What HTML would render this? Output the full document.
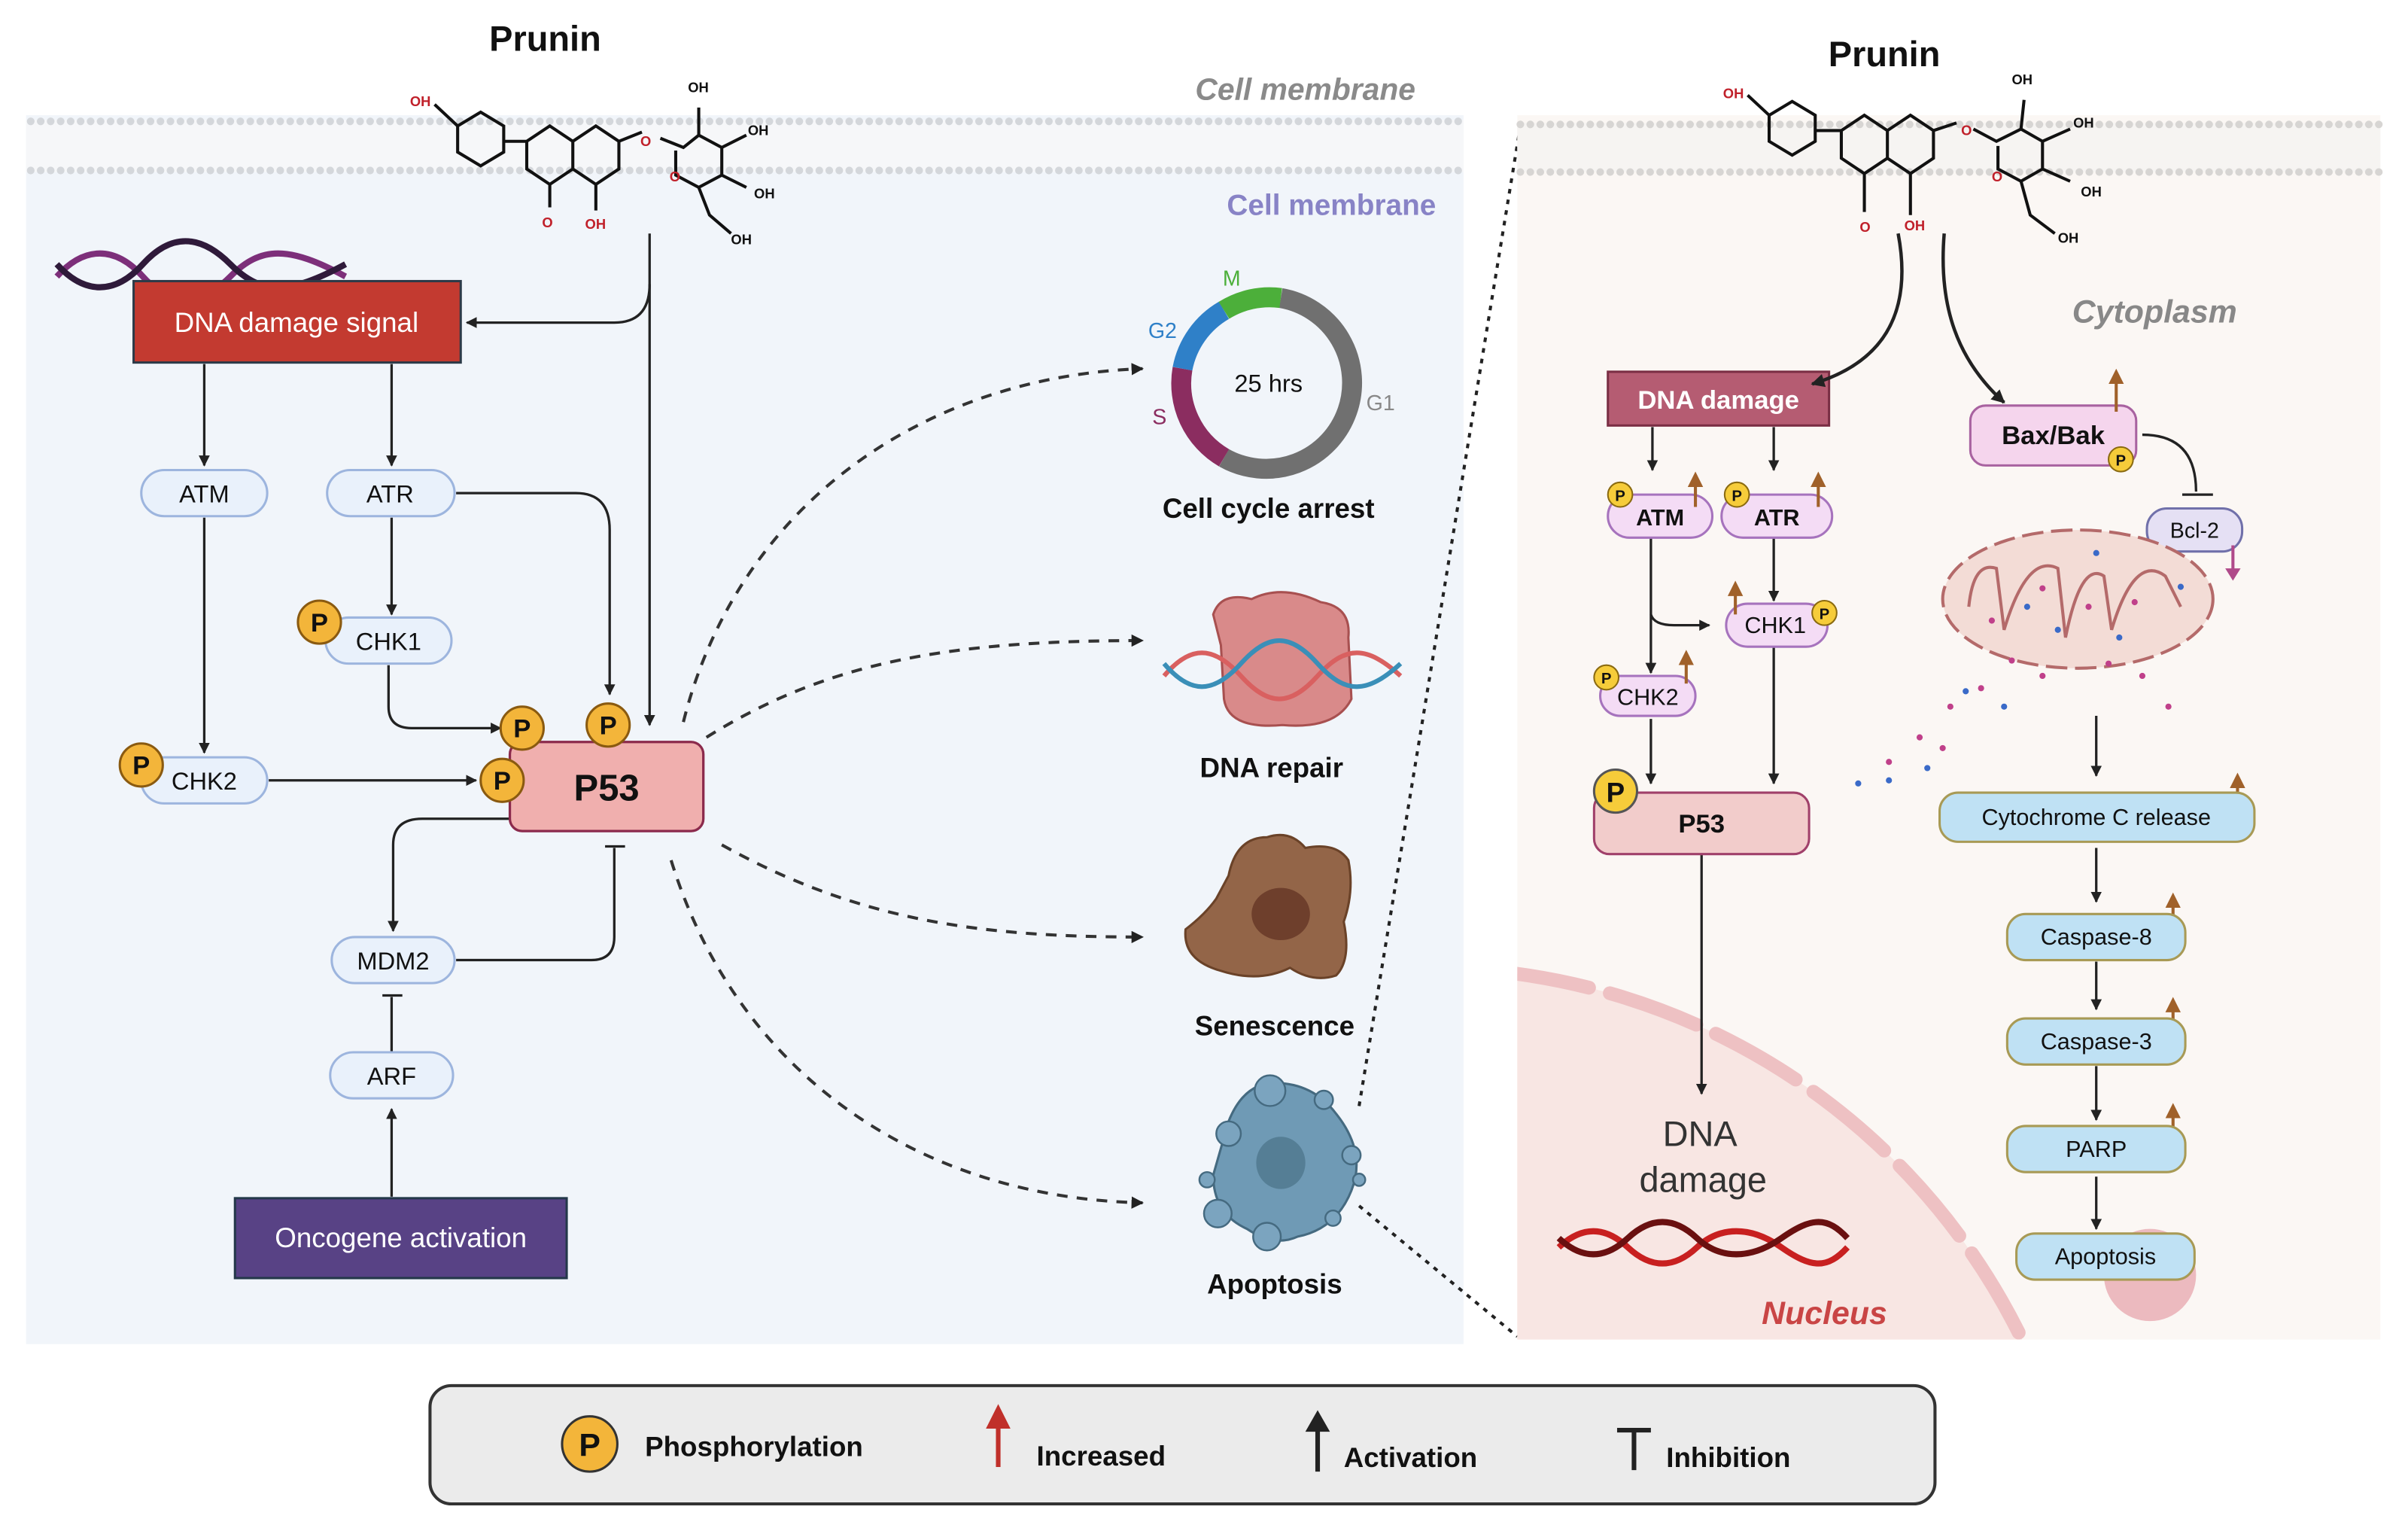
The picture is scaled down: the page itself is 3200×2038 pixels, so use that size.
<!DOCTYPE html>
<html><head><meta charset="utf-8"><style>
html,body{margin:0;padding:0;background:#fff;width:3200px;height:2038px;overflow:hidden}
svg{display:block;position:absolute;left:0;top:0}
text{font-family:"Liberation Sans",sans-serif}
</style></head><body>
<svg width="3200" height="2038" viewBox="0 0 1568 998.6" preserveAspectRatio="none" xmlns="http://www.w3.org/2000/svg">
<defs>
<marker id="a" viewBox="0 0 10 10" refX="9" refY="5" markerWidth="4.5" markerHeight="4.5" orient="auto-start-reverse"><path d="M0,0L10,5L0,10z" fill="#222"/></marker>
<marker id="ab" viewBox="0 0 10 10" refX="9" refY="5" markerWidth="4" markerHeight="4" orient="auto"><path d="M0,0L10,5L0,10z" fill="#222"/></marker>
<marker id="ao" viewBox="0 0 10 10" refX="5" refY="5" markerWidth="5" markerHeight="5" orient="auto"><path d="M0,0L10,5L0,10z" fill="#a0612a"/></marker>
<clipPath id="rp"><rect x="988" y="112" width="562" height="760"/></clipPath>
</defs>

<!-- LEFT PANEL -->
<rect x="17" y="75" width="936" height="800" fill="#f1f5fa"/>
<rect x="17" y="78" width="936" height="34" fill="#f6f7f9"/>
<line x1="20" y1="79" x2="950" y2="79" stroke="#d4d7db" stroke-width="5" stroke-dasharray="0 6.5" stroke-linecap="round"/>
<line x1="20" y1="111" x2="950" y2="111" stroke="#d4d7db" stroke-width="5" stroke-dasharray="0 6.5" stroke-linecap="round"/>
<text x="850" y="65" font-size="20" font-weight="bold" font-style="italic" fill="#8a8a8a" text-anchor="middle">Cell membrane</text>
<text x="867" y="140" font-size="19" font-weight="bold" fill="#8883c6" text-anchor="middle">Cell membrane</text>
<text x="355" y="33" font-size="23" font-weight="bold" fill="#111" text-anchor="middle">Prunin</text>

<!-- molecule left -->
<g fill="none" stroke="#111" stroke-width="2">
<polygon points="298,82 313,73 328,82 328,99 313,108 298,99"/>
<path d="M283,68 L298,82 M328,92 L343,92 L358,82 L373,92 L373,110 L358,120 L343,110 L343,92 M358,120 L358,135 M373,92 L388,82 L403,92 L403,110 L388,120 L373,110 M388,120 L388,137 M403,92 L418,86 M430,90 L445,96 L455,88 L470,96 L470,114 L455,122 L440,114 L440,98 M455,88 L455,70 M470,96 L486,88 M470,114 L486,122 M455,122 L462,140 L476,152"/>
</g>
<g font-size="9" font-weight="bold" fill="#c0202a">
<text x="267" y="69">OH</text><text x="353" y="148">O</text><text x="381" y="149">OH</text><text x="417" y="95">O</text><text x="436" y="118">O</text>
<text x="448" y="60" fill="#111">OH</text><text x="487" y="88" fill="#111">OH</text><text x="491" y="129" fill="#111">OH</text><text x="476" y="159" fill="#111">OH</text>
</g>

<!-- DNA helix left -->
<path d="M37,180 C55,160 75,160 93,180 S130,200 150,180 S188,160 225,180" fill="none" stroke="#7d2f7a" stroke-width="4"/>
<path d="M37,172 C55,192 75,192 93,172 S130,152 150,172 S188,192 225,172" fill="none" stroke="#2f1a3a" stroke-width="4"/>
<rect x="87" y="183" width="213" height="53" fill="#c33a30" stroke="#2d3a48" stroke-width="1.5"/>
<text x="193" y="216" font-size="18" fill="#fff" text-anchor="middle">DNA damage signal</text>

<g fill="none" stroke="#222" stroke-width="1.6">
<path d="M423,152 L423,472" marker-end="url(#a)"/>
<path d="M423,185 Q423,210 400,210 L304,210" marker-end="url(#a)"/>
<path d="M133,237 L133,303" marker-end="url(#a)"/>
<path d="M255,237 L255,303" marker-end="url(#a)"/>
<path d="M133,337 L133,490" marker-end="url(#a)"/>
<path d="M255,337 L255,400" marker-end="url(#a)"/>
<path d="M297,321 L375,321 Q397,321 397,345 L397,452" marker-end="url(#a)"/>
<path d="M253,433 L253,460 Q253,474 268,474 L326,474" marker-end="url(#a)"/>
<path d="M175,508 L310,508" marker-end="url(#a)"/>
<path d="M332,533 L275,533 Q256,533 256,550 L256,606" marker-end="url(#a)"/>
<path d="M297,625 L385,625 Q400,625 400,610 L400,552"/>
<path d="M394,551 L407,551"/>
<path d="M255,686 L255,649 M249,648 L262,648"/>
<path d="M255,779 L255,722" marker-end="url(#a)"/>
</g>

<g fill="#e9f1fb" stroke="#9db5de" stroke-width="1.5">
<rect x="92" y="306" width="82" height="30" rx="15"/>
<rect x="213" y="306" width="83" height="30" rx="15"/>
<rect x="212" y="402" width="82" height="30" rx="15"/>
<rect x="92" y="493" width="82" height="30" rx="15"/>
<rect x="216" y="610" width="80" height="30" rx="15"/>
<rect x="215" y="685" width="80" height="30" rx="15"/>
</g>
<g font-size="16" fill="#111" text-anchor="middle">
<text x="133" y="327">ATM</text><text x="254" y="327">ATR</text><text x="253" y="423">CHK1</text>
<text x="133" y="514">CHK2</text><text x="256" y="631">MDM2</text><text x="255" y="706">ARF</text>
</g>

<rect x="332" y="483" width="126" height="58" rx="8" fill="#f0afae" stroke="#8b2a4c" stroke-width="1.6"/>
<text x="395" y="521" font-size="24" font-weight="bold" fill="#111" text-anchor="middle">P53</text>
<g fill="#f3b53a" stroke="#8a5a10" stroke-width="1.5">
<circle cx="208" cy="405" r="14"/><circle cx="340" cy="474" r="14"/><circle cx="396" cy="472" r="14"/><circle cx="327" cy="508" r="14"/><circle cx="92" cy="498" r="14"/>
</g>
<g font-size="17" font-weight="bold" fill="#111" text-anchor="middle">
<text x="208" y="411">P</text><text x="340" y="480">P</text><text x="396" y="478">P</text><text x="327" y="514">P</text><text x="92" y="504">P</text>
</g>

<rect x="153" y="780" width="216" height="52" fill="#584285" stroke="#24384a" stroke-width="1.5"/>
<text x="261" y="812" font-size="18" fill="#fff" text-anchor="middle">Oncogene activation</text>

<!-- dashed outputs -->
<g fill="none" stroke="#333" stroke-width="2" stroke-dasharray="7 6">
<path d="M445,470 C480,330 600,245 744,240" marker-end="url(#ab)"/>
<path d="M460,480 C540,430 620,417 744,417" marker-end="url(#ab)"/>
<path d="M470,550 C560,600 640,610 744,610" marker-end="url(#ab)"/>
<path d="M437,560 C480,700 600,780 744,783" marker-end="url(#ab)"/>
</g>

<!-- cell cycle -->
<g fill="none" stroke-width="13">
<path d="M834,194 A56,56 0 1 1 797,298" stroke="#707070"/>
<path d="M797,298 A56,56 0 0 1 770,240" stroke="#8b2d60"/>
<path d="M770,240 A56,56 0 0 1 797,202" stroke="#2f80c8"/>
<path d="M797,202 A56,56 0 0 1 834,194" stroke="#4caf3a"/>
</g>
<text x="826" y="255" font-size="16" fill="#111" text-anchor="middle">25 hrs</text>
<text x="802" y="186" font-size="14" fill="#4caf3a" text-anchor="middle">M</text>
<text x="757" y="220" font-size="14" fill="#2f80c8" text-anchor="middle">G2</text>
<text x="755" y="276" font-size="14" fill="#8b2d60" text-anchor="middle">S</text>
<text x="899" y="267" font-size="14" fill="#888" text-anchor="middle">G1</text>
<text x="826" y="337" font-size="18" font-weight="bold" fill="#111" text-anchor="middle">Cell cycle arrest</text>

<!-- DNA repair -->
<path d="M790,400 Q795,385 815,390 Q835,380 860,392 Q880,395 878,415 L880,455 Q870,475 835,472 Q800,475 797,455 L795,420 Z" fill="#d98a8a" stroke="#a85050" stroke-width="1.5"/>
<path d="M758,440 C775,420 790,420 808,440 S840,460 858,440 S890,420 912,440" fill="none" stroke="#d96060" stroke-width="3"/>
<path d="M758,432 C775,452 790,452 808,432 S840,412 858,432 S890,452 912,432" fill="none" stroke="#3a8fb8" stroke-width="3"/>
<text x="828" y="506" font-size="18" font-weight="bold" fill="#111" text-anchor="middle">DNA repair</text>

<!-- senescence -->
<path d="M800,570 Q805,545 825,545 Q840,540 850,552 Q870,548 878,560 Q882,580 875,600 Q880,625 870,635 Q855,640 840,630 Q820,640 795,632 Q770,625 772,605 Q785,595 792,585 Z" fill="#936548" stroke="#6a4228" stroke-width="1.5"/>
<ellipse cx="834" cy="595" rx="19" ry="17" fill="#6e3f2c"/>
<text x="830" y="674" font-size="18" font-weight="bold" fill="#111" text-anchor="middle">Senescence</text>

<!-- apoptosis -->
<path d="M800,730 Q810,705 830,705 Q855,705 870,725 Q890,750 880,775 Q870,800 845,805 Q830,812 812,800 Q790,790 790,765 Z" fill="#6f9ab5" stroke="#456a80" stroke-width="1.5"/>
<g fill="#7ba4bf" stroke="#456a80" stroke-width="1.2">
<circle cx="827" cy="710" r="10"/><circle cx="862" cy="716" r="6"/><circle cx="800" cy="738" r="8"/><circle cx="880" cy="752" r="6"/><circle cx="786" cy="768" r="5"/><circle cx="793" cy="790" r="9"/><circle cx="825" cy="805" r="9"/><circle cx="868" cy="793" r="5"/><circle cx="885" cy="768" r="4"/>
</g>
<ellipse cx="834" cy="757" rx="16" ry="17" fill="#557e95"/>
<text x="830" y="842" font-size="18" font-weight="bold" fill="#111" text-anchor="middle">Apoptosis</text>

<g fill="none" stroke="#222" stroke-width="2" stroke-dasharray="3 4">
<path d="M885,720 L990,82"/>
<path d="M885,785 L988,870"/>
</g>

<!-- RIGHT PANEL -->
<rect x="988" y="75" width="562" height="797" fill="#fbf7f4"/>
<rect x="988" y="80" width="562" height="32" fill="#f6f4f2"/>
<line x1="990" y1="81" x2="1550" y2="81" stroke="#d7d5d3" stroke-width="5" stroke-dasharray="0 6.5" stroke-linecap="round"/>
<line x1="990" y1="112" x2="1550" y2="112" stroke="#d7d5d3" stroke-width="5" stroke-dasharray="0 6.5" stroke-linecap="round"/>
<g clip-path="url(#rp)">
<circle cx="930" cy="1060" r="430" fill="#f8e6e3"/>
<circle cx="930" cy="1060" r="430" fill="none" stroke="#eec1c3" stroke-width="9" stroke-dasharray="60 14" stroke-linecap="round"/>
</g>
<text x="1227" y="43" font-size="23" font-weight="bold" fill="#111" text-anchor="middle">Prunin</text>
<g fill="none" stroke="#111" stroke-width="2">
<polygon points="1152,75 1167,66 1182,75 1182,92 1167,101 1152,92"/>
<path d="M1138,62 L1152,75 M1182,85 L1199,85 L1214,75 L1229,85 L1229,103 L1214,113 L1199,103 L1199,85 M1214,113 L1214,138 M1229,85 L1244,75 L1259,85 L1259,103 L1244,113 L1229,103 M1244,113 L1244,140 M1259,85 L1274,80 M1285,84 L1300,92 L1316,84 L1330,92 L1330,110 L1316,118 L1301,110 L1301,95 M1316,84 L1318,65 M1330,92 L1348,84 M1330,110 L1348,118 M1316,118 L1322,140 L1338,152"/>
</g>
<g font-size="9" font-weight="bold" fill="#c0202a">
<text x="1122" y="64">OH</text><text x="1211" y="151">O</text><text x="1240" y="150">OH</text><text x="1277" y="88">O</text><text x="1297" y="118">O</text>
<text x="1310" y="55" fill="#111">OH</text><text x="1350" y="83" fill="#111">OH</text><text x="1355" y="128" fill="#111">OH</text><text x="1340" y="158" fill="#111">OH</text>
</g>
<text x="1403" y="210" font-size="21" font-weight="bold" font-style="italic" fill="#888" text-anchor="middle">Cytoplasm</text>

<rect x="1047" y="242" width="144" height="35" fill="#b55c72" stroke="#7a2e44" stroke-width="1.5"/>
<text x="1119" y="266" font-size="17" font-weight="bold" fill="#fff" text-anchor="middle">DNA damage</text>
<g fill="none" stroke="#222" stroke-width="2.2">
<path d="M1236,152 C1245,200 1230,235 1180,250" marker-end="url(#ab)"/>
<path d="M1266,152 C1262,200 1275,235 1305,262" marker-end="url(#ab)"/>
</g>

<g fill="none" stroke="#222" stroke-width="1.6">
<path d="M1076,278 L1076,306" marker-end="url(#a)"/>
<path d="M1155,278 L1155,306" marker-end="url(#a)"/>
<path d="M1075,350 L1075,438" marker-end="url(#a)"/>
<path d="M1075,400 Q1077,407 1090,407 L1113,407" marker-end="url(#a)"/>
<path d="M1155,350 L1155,391" marker-end="url(#a)"/>
<path d="M1075,468 L1075,510" marker-end="url(#a)"/>
<path d="M1155,420 L1155,510" marker-end="url(#a)"/>
<path d="M1108,556 L1108,712" marker-end="url(#a)"/>
<path d="M1395,283 Q1430,283 1430,320 M1421,322 L1441,322"/>
<path d="M1365,466 L1365,505" marker-end="url(#a)"/>
<path d="M1365,552 L1365,587" marker-end="url(#a)"/>
<path d="M1365,626 L1365,657" marker-end="url(#a)"/>
<path d="M1365,694 L1365,729" marker-end="url(#a)"/>
<path d="M1365,766 L1365,800" marker-end="url(#a)"/>
</g>

<g fill="#f4dcf5" stroke="#a673bd" stroke-width="1.5">
<rect x="1047" y="322" width="68" height="28" rx="14"/>
<rect x="1121" y="322" width="72" height="28" rx="14"/>
<rect x="1124" y="393" width="66" height="28" rx="14"/>
<rect x="1042" y="440" width="62" height="26" rx="13"/>
</g>
<g font-size="15" fill="#111" text-anchor="middle">
<text x="1081" y="342" font-weight="bold">ATM</text><text x="1157" y="342" font-weight="bold">ATR</text>
<text x="1156" y="412">CHK1</text><text x="1073" y="459">CHK2</text>
</g>
<rect x="1038" y="516" width="140" height="40" rx="10" fill="#f2cccb" stroke="#a0406a" stroke-width="1.5"/>
<text x="1108" y="542" font-size="17" font-weight="bold" fill="#111" text-anchor="middle">P53</text>
<rect x="1283" y="264" width="108" height="39" rx="10" fill="#f5d5ed" stroke="#a862a0" stroke-width="1.5"/>
<text x="1337" y="289" font-size="17" font-weight="bold" fill="#111" text-anchor="middle">Bax/Bak</text>
<rect x="1398" y="331" width="62" height="28" rx="13" fill="#e5e0f4" stroke="#7070aa" stroke-width="1.5"/>
<text x="1429" y="350" font-size="14" fill="#111" text-anchor="middle">Bcl-2</text>

<g fill="#f6cc3a" stroke="#8a6a10" stroke-width="1">
<circle cx="1055" cy="322" r="8"/><circle cx="1131" cy="322" r="8"/><circle cx="1188" cy="399" r="8"/><circle cx="1046" cy="441" r="8"/><circle cx="1381" cy="299" r="8"/>
</g>
<circle cx="1052" cy="515" r="14" fill="#f6cc3a" stroke="#555" stroke-width="1.5"/>
<g font-size="10" font-weight="bold" fill="#111" text-anchor="middle">
<text x="1055" y="326">P</text><text x="1131" y="326">P</text><text x="1188" y="403">P</text><text x="1046" y="445">P</text><text x="1381" y="303">P</text>
</g>
<text x="1052" y="522" font-size="18" font-weight="bold" fill="#111" text-anchor="middle">P</text>

<g stroke="#a0612a" stroke-width="2" fill="none">
<path d="M1104,330 L1104,312" marker-end="url(#ao)"/>
<path d="M1184,330 L1184,312" marker-end="url(#ao)"/>
<path d="M1130,400 L1130,383" marker-end="url(#ao)"/>
<path d="M1098,445 L1098,428" marker-end="url(#ao)"/>
<path d="M1378,268 L1378,245" marker-end="url(#ao)"/>
<path d="M1457,528 L1457,508" marker-end="url(#ao)"/>
<path d="M1415,606 L1415,586" marker-end="url(#ao)"/>
<path d="M1415,674 L1415,654" marker-end="url(#ao)"/>
<path d="M1415,743 L1415,723" marker-end="url(#ao)"/>
</g>
<path d="M1454,355 L1454,375" stroke="#b04a8a" stroke-width="2" fill="none"/>
<path d="M1449,370 L1454,378 L1459,370z" fill="#b04a8a"/>

<!-- mitochondrion -->
<ellipse cx="1353" cy="390" rx="88" ry="45" fill="#f3dcd6" stroke="#b46a6a" stroke-width="2" stroke-dasharray="14 5"/>
<path d="M1282,395 Q1285,365 1300,370 L1305,410 Q1320,360 1340,370 L1345,415 Q1355,365 1370,375 L1375,410 Q1390,360 1410,375 L1420,395" fill="none" stroke="#b46a6a" stroke-width="2"/>
<g fill="#c0408a">
<circle cx="1297" cy="404" r="2"/><circle cx="1330" cy="383" r="2"/><circle cx="1360" cy="395" r="2"/><circle cx="1390" cy="392" r="2"/><circle cx="1270" cy="460" r="2"/><circle cx="1290" cy="448" r="2"/><circle cx="1250" cy="480" r="2"/><circle cx="1230" cy="496" r="2"/><circle cx="1373" cy="432" r="2"/><circle cx="1395" cy="440" r="2"/><circle cx="1412" cy="460" r="2"/><circle cx="1330" cy="440" r="2"/><circle cx="1310" cy="430" r="2"/><circle cx="1265" cy="487" r="2"/>
</g>
<g fill="#3a6ac8">
<circle cx="1320" cy="395" r="2"/><circle cx="1380" cy="415" r="2"/><circle cx="1420" cy="382" r="2"/><circle cx="1365" cy="360" r="2"/><circle cx="1280" cy="450" r="2"/><circle cx="1305" cy="460" r="2"/><circle cx="1230" cy="508" r="2"/><circle cx="1210" cy="510" r="2"/><circle cx="1255" cy="500" r="2"/><circle cx="1340" cy="410" r="2"/>
</g>

<g fill="#bfe1f4" stroke="#a89a55" stroke-width="1.5">
<rect x="1263" y="516" width="205" height="32" rx="12"/>
<rect x="1307" y="595" width="116" height="30" rx="12"/>
<rect x="1307" y="663" width="116" height="30" rx="12"/>
<rect x="1307" y="733" width="116" height="30" rx="12"/>
</g>
<g fill="#e6a0a8" opacity="0.7"><circle cx="1400" cy="830" r="30"/></g>
<rect x="1313" y="803" width="116" height="30" rx="12" fill="#bfe1f4" stroke="#a89a55" stroke-width="1.5"/>
<g font-size="15" fill="#111" text-anchor="middle">
<text x="1365" y="537">Cytochrome C release</text><text x="1365" y="615">Caspase-8</text><text x="1365" y="683">Caspase-3</text><text x="1365" y="753">PARP</text><text x="1371" y="823">Apoptosis</text>
</g>

<text x="1107" y="746" font-size="23" fill="#333" text-anchor="middle">DNA</text>
<text x="1109" y="776" font-size="23" fill="#333" text-anchor="middle">damage</text>
<path d="M1015,812 C1030,798 1045,798 1060,812 S1090,826 1105,812 S1140,798 1160,812 S1190,826 1203,812" fill="none" stroke="#c82020" stroke-width="4"/>
<path d="M1015,806 C1030,820 1045,820 1060,806 S1090,792 1105,806 S1140,820 1160,806 S1190,792 1203,806" fill="none" stroke="#6a1010" stroke-width="4"/>
<text x="1188" y="862" font-size="21" font-weight="bold" font-style="italic" fill="#c94545" text-anchor="middle">Nucleus</text>

<!-- legend -->
<rect x="280" y="902" width="980" height="77" rx="14" fill="#ebebeb" stroke="#333" stroke-width="2"/>
<circle cx="384" cy="940" r="18" fill="#f3b53a" stroke="#333" stroke-width="1.5"/>
<text x="384" y="948" font-size="21" font-weight="bold" fill="#111" text-anchor="middle">P</text>
<text x="420" y="948" font-size="18" font-weight="bold" fill="#111">Phosphorylation</text>
<path d="M650,955 L650,928" stroke="#c0302a" stroke-width="3"/><path d="M642,930 L650,914 L658,930z" fill="#c0302a"/>
<text x="675" y="954" font-size="18" font-weight="bold" fill="#111">Increased</text>
<path d="M858,958 L858,930" stroke="#222" stroke-width="3"/><path d="M850,932 L858,918 L866,932z" fill="#222"/>
<text x="875" y="955" font-size="18" font-weight="bold" fill="#111">Activation</text>
<path d="M1064,957 L1064,932 M1053,931 L1075,931" stroke="#222" stroke-width="3" fill="none"/>
<text x="1085" y="955" font-size="18" font-weight="bold" fill="#111">Inhibition</text>
</svg>
</body></html>
